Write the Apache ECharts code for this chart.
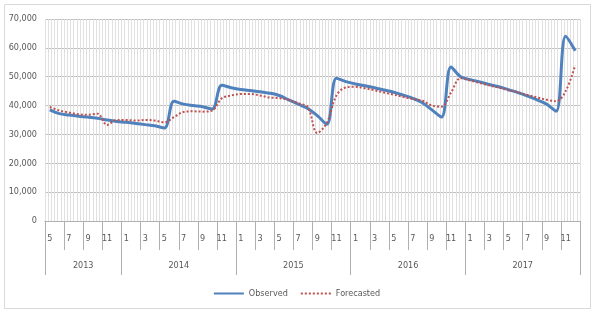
<!DOCTYPE html>
<html>
<head>
<meta charset="utf-8">
<script src="https://cdn.jsdelivr.net/npm/echarts@6/dist/echarts.min.js"></script>
<style>
  html, body { margin: 0; padding: 0; background: #fff; }
  #chart { width: 593px; height: 313px; }
</style>
</head>
<body>
<div id="chart"></div>
<script>
// month labels, 2013-05 .. 2017-12
const months = [
  "5", "6", "7", "8", "9", "10", "11", "12",
  "1", "2", "3", "4", "5", "6", "7", "8", "9", "10", "11", "12",
  "1", "2", "3", "4", "5", "6", "7", "8", "9", "10", "11", "12",
  "1", "2", "3", "4", "5", "6", "7", "8", "9", "10", "11", "12",
  "1", "2", "3", "4", "5", "6", "7", "8", "9", "10", "11", "12",
];
const years = ["2013", "2014", "2015", "2016", "2017"];
const monthsPerYear = [8, 12, 12, 12, 12];

const observed = [
  38500, 37200, 36700, 36300, 36000, 35600, 35000, 34500,
  34200, 33800, 33400, 33000, 32200, 41500, 40500, 40000, 39600, 38800, 47000, 46200,
  45600, 45200, 44800, 44300, 43500, 42000, 40500, 39000, 36500, 33500, 49500, 48300,
  47500, 46900, 46200, 45400, 44600, 43600, 42500, 41000, 38500, 36000, 53400, 50000,
  49000, 48200, 47300, 46500, 45500, 44500, 43300, 42000, 40500, 38000, 64000, 59000,
];
const forecasted = [
  39500, 38300, 37600, 37000, 36800, 37200, 33300, 35000,
  35000, 34800, 35000, 34800, 34200, 36000, 37800, 38000, 37900, 38300, 42500, 43500,
  44000, 44000, 43500, 42800, 42600, 42000, 40800, 39500, 30500, 34000, 43500, 46300,
  46500, 46000, 45300, 44500, 43800, 43000, 42300, 41700, 40000, 39600, 44500, 49500,
  48700, 47800, 47000, 46200, 45400, 44600, 43700, 42800, 42000, 41500, 45000, 54000,
];

// year boundaries and label centres (in month units)
const yearStarts = [];
const yearCentres = {};
let acc = 0;
monthsPerYear.forEach((n, i) => {
  yearStarts.push(acc);
  yearCentres[acc + n / 2] = years[i];
  acc += n;
});
const total = months.length;

const font = "'Liberation Sans Narrow', 'DejaVu Sans Condensed', 'Liberation Sans', sans-serif";
const textGray = "#595959";
const tickGray = "#b0b0b0";

const chart = echarts.init(document.getElementById("chart"));
chart.setOption({
  animation: false,
  textStyle: { fontFamily: font },
  graphic: [
    {
      type: "rect",
      shape: { x: 4.5, y: 4.5, width: 586, height: 304 },
      style: { fill: "none", stroke: "#d9d9d9", lineWidth: 1 },
      silent: true,
    },
  ],
  grid: { left: 45, right: 13, top: 19, bottom: 92 },
  legend: {
    bottom: 10,
    left: "center",
    itemWidth: 30,
    itemHeight: 8,
    itemGap: 12,
    itemStyle: { opacity: 0 },
    textStyle: { fontSize: 9, color: textGray, fontFamily: font },
    data: ["Observed", "Forecasted"],
  },
  xAxis: [
    {
      // month labels
      type: "category",
      data: months,
      position: "bottom",
      axisLine: { show: true, lineStyle: { color: tickGray } },
      axisTick: { show: true, interval: 1, length: 29, lineStyle: { color: tickGray } },
      axisLabel: { interval: 1, margin: 13, fontSize: 9, color: textGray },
      splitLine: { show: false },
    },
    {
      // year dividers
      type: "category",
      data: months,
      position: "bottom",
      offset: 0,
      axisLine: { show: true, lineStyle: { color: tickGray } },
      axisTick: {
        show: true,
        interval: (idx) => yearStarts.includes(idx),
        length: 54,
        lineStyle: { color: tickGray },
      },
      axisLabel: { show: false },
      splitLine: { show: false },
    },
    {
      // fine vertical gridlines, 3 per month
      type: "value",
      min: 0,
      max: total * 3,
      interval: 1,
      axisLine: { show: false },
      axisTick: { show: false },
      axisLabel: { show: false },
      splitLine: { lineStyle: { color: "#e0e0e0", width: 1 } },
    },
    {
      // year labels
      type: "value",
      min: 0,
      max: total,
      interval: 1,
      position: "bottom",
      offset: 0,
      axisLine: { show: false },
      axisTick: { show: false },
      splitLine: { show: false },
      axisLabel: {
        margin: 40,
        fontSize: 9,
        color: textGray,
        showMinLabel: true,
        showMaxLabel: true,
        formatter: (v) => yearCentres[v] || "",
      },
    },
  ],
  yAxis: {
    type: "value",
    min: 0,
    max: 70000,
    interval: 10000,
    axisLine: { show: false },
    axisTick: { show: false },
    axisLabel: {
      margin: 8,
      fontSize: 9,
      color: textGray,
      formatter: (v) => v.toLocaleString("en-US"),
    },
    splitLine: { lineStyle: { color: "#bfbfbf", width: 1 } },
  },
  series: [
    {
      name: "Observed",
      type: "line",
      data: observed,
      xAxisIndex: 0,
      symbol: "none",
      smooth: 0.35,
      itemStyle: { color: "#4f81bd" },
      lineStyle: { color: "#4f81bd", width: 3 },
      z: 3,
    },
    {
      name: "Forecasted",
      type: "line",
      data: forecasted,
      xAxisIndex: 0,
      symbol: "none",
      smooth: 0.35,
      itemStyle: { color: "#c0504d" },
      lineStyle: { color: "#c0504d", width: 2, type: [2, 2] },
      z: 4,
    },
  ],
});
</script>
</body>
</html>
